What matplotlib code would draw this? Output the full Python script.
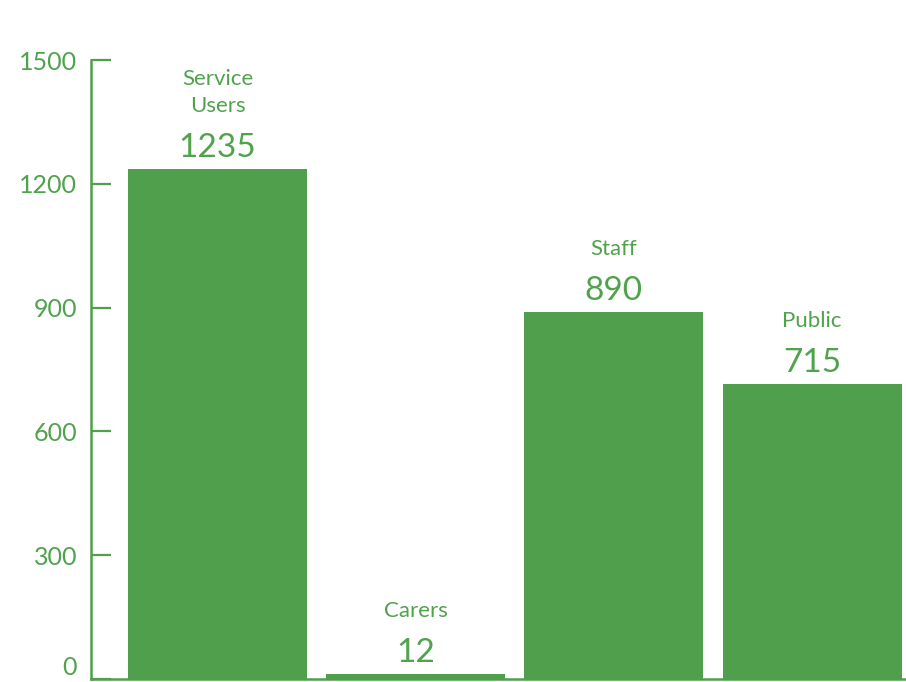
import matplotlib
matplotlib.use("Agg")
import matplotlib.pyplot as plt

categories = ["Service\nUsers", "Carers", "Staff", "Public"]
values = [1235, 12, 890, 715]
yticks = [0, 300, 600, 900, 1200, 1500]

bar_color = "#4f9f4c"
text_color = "#50a24c"
font = "Lato"

fig = plt.figure(figsize=(9.06, 6.82), dpi=100)
ax = fig.add_axes([91/906, 3/682, (906-91)/906, (679-60)/682])
x = list(range(len(values)))
ax.bar(x, values, width=0.903, color=bar_color, zorder=2)
ax.set_xlim(-0.638, 3.474)
ax.set_ylim(0, 1500)

for xi, v, c in zip(x, values, categories):
    ax.annotate(str(v), (xi, v), xytext=(0, 8.6), textcoords="offset points",
                ha="center", va="baseline", fontsize=24, color=text_color, family=font)
    ax.annotate(c, (xi, v), xytext=(0, 41), textcoords="offset points",
                ha="center", va="baseline", fontsize=16, color=text_color,
                family=font, linespacing=1.45)

for s in ["top", "right"]:
    ax.spines[s].set_visible(False)
for s in ["left", "bottom"]:
    ax.spines[s].set_color(bar_color)
    ax.spines[s].set_linewidth(1.8)

ax.set_xticks([])
ax.set_yticks(yticks)
ax.set_yticklabels([str(t) for t in yticks])
ax.tick_params(axis="y", direction="in", length=14.4, width=1.6, color=bar_color,
               labelcolor=text_color, labelsize=18, pad=10)
for lab in ax.get_yticklabels():
    lab.set_family(font)
ax.get_yticklabels()[0].set_va("bottom")

fig.savefig("out.png", dpi=100)
